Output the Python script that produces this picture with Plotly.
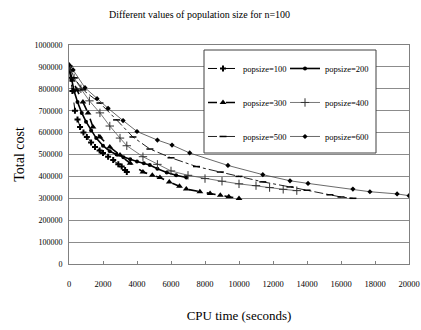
import plotly.graph_objects as go

# ---- data ----
t100 = [0, 100, 200, 350, 500, 650, 850, 1050, 1300, 1530, 1800, 2000, 2300, 2600, 2900, 3100, 3300, 3400]
c100 = [900000, 850000, 790000, 700000, 660000, 626000, 600000, 580000, 555000, 534000, 518000, 507000, 490000, 475000, 455000, 445000, 429000, 420000]

t200 = [0, 150, 300, 500, 750, 1000, 1300, 1600, 2000, 2400, 2800, 3200, 3600, 4000, 4400, 4750, 5200, 5750, 6300, 6900]
c200 = [900000, 840000, 790000, 740000, 690000, 650000, 610000, 575000, 540000, 515000, 500000, 488000, 478000, 468000, 460000, 452000, 435000, 418000, 405000, 395000]

t300 = [0, 200, 470, 820, 1120, 1410, 1820, 2400, 3000, 3600, 4350, 4900, 5350, 5900, 6500, 6900, 7700, 8300, 8900, 9400, 10000]
c300 = [890000, 840000, 795000, 740000, 690000, 626000, 580000, 534000, 498000, 460000, 420000, 405000, 395000, 375000, 355000, 342000, 330000, 322000, 314000, 307000, 299000]

t400 = [0, 300, 700, 1200, 1820, 2400, 3000, 3400, 4350, 5200, 6000, 7000, 8000, 9000, 10000, 11000, 11800, 12600, 13400]
c400 = [900000, 850000, 800000, 745000, 690000, 630000, 575000, 540000, 490000, 455000, 425000, 405000, 390000, 378000, 366000, 358000, 349000, 341000, 335000]

t500 = [0, 300, 820, 1820, 2800, 3760, 4760, 6000, 7500, 8900, 10000, 11400, 13000, 14000, 15350, 16000, 16700]
c500 = [905000, 850000, 795000, 735000, 658000, 580000, 525000, 485000, 445000, 420000, 400000, 375000, 352000, 337000, 316000, 306000, 300000]

t600 = [0, 240, 940, 1650, 2300, 3180, 4000, 5200, 6060, 7100, 9350, 11400, 13000, 14060, 16700, 17700, 19300, 20000]
c600 = [910000, 886000, 805000, 755000, 711000, 655000, 605000, 566000, 543000, 507000, 450000, 408000, 380000, 368000, 342000, 330000, 320000, 312000]

names = ["popsize=100", "popsize=200", "popsize=300", "popsize=400", "popsize=500", "popsize=600"]
title_text = "Different values of population size for n=100"

FONT = "Liberation Serif"

fig = go.Figure()

styles = [
    dict(line=dict(color="#000000", width=1, dash="dash"),
         marker=dict(symbol="cross", size=5, color="#000000"), legend="legend"),
    dict(line=dict(color="#000000", width=1.6),
         marker=dict(symbol="circle", size=4, color="#000000"), legend="legend2"),
    dict(line=dict(color="#000000", width=1.6, dash="dash"),
         marker=dict(symbol="triangle-up", size=6, color="#000000"), legend="legend"),
    dict(line=dict(color="#555555", width=0.8),
         marker=dict(symbol="cross-thin", size=6, color="#333333", line=dict(width=1, color="#333333")), legend="legend2"),
    dict(line=dict(color="#222222", width=1, dash="dashdot"),
         marker=dict(symbol="line-ew", size=5, color="#000000", line=dict(width=1.5, color="#000000")), legend="legend"),
    dict(line=dict(color="#444444", width=0.8),
         marker=dict(symbol="diamond", size=4, color="#000000"), legend="legend2"),
]
xs = [t100, t200, t300, t400, t500, t600]
ys = [c100, c200, c300, c400, c500, c600]

for i in range(6):
    s = styles[i]
    fig.add_trace(go.Scatter(x=xs[i], y=ys[i], name=names[i], mode="lines+markers",
                             line=s["line"], marker=s["marker"], legend=s["legend"],
                             legendgroup=names[i]))

leg_common = dict(bgcolor="rgba(0,0,0,0)", borderwidth=0, font=dict(family=FONT, size=8.5, color="#000000"),
                  tracegroupgap=15, itemwidth=30, xanchor="left", yanchor="top", y=0.959)

fig.update_layout(
    width=421, height=330,
    margin=dict(l=69, r=12, t=45, b=66),
    paper_bgcolor="white", plot_bgcolor="white",
    title=dict(text=title_text, x=0.474, xanchor="center", y=0.957, yanchor="middle",
               font=dict(family=FONT, size=10, color="#000000")),
    legend=dict(x=(203 - 69) / 340, **leg_common),
    legend2=dict(x=(285 - 69) / 340, **leg_common),
    xaxis=dict(range=[0, 20000], dtick=2000, tickformat="d", showgrid=False, automargin=False,
               showline=True, linecolor="#808080", linewidth=1, mirror=True,
               ticks="inside", ticklen=3, tickcolor="#808080", ticklabelstandoff=12,
               tickfont=dict(family=FONT, size=8.5, color="#000000"),
               title=dict(text="CPU time (seconds)", font=dict(family=FONT, size=13, color="#000000"), standoff=22),
               zeroline=False),
    yaxis=dict(range=[0, 1000000], dtick=100000, tickformat="d", showgrid=True, gridcolor="#8c8c8c", gridwidth=1,
               automargin=False,
               showline=True, linecolor="#808080", linewidth=1, mirror=True,
               ticks="", ticklabelstandoff=4,
               tickfont=dict(family=FONT, size=8, color="#000000"),
               title=dict(text="Total cost", font=dict(family=FONT, size=14, color="#000000"), standoff=6),
               zeroline=False),
    showlegend=True,
    shapes=[dict(type="rect", xref="paper", yref="paper",
                 x0=(204 - 69) / 340, x1=(376 - 69) / 340, y0=(264 - 153) / 219, y1=(264 - 50) / 219,
                 fillcolor="white", line=dict(color="#404040", width=1), layer="above")],
)

fig.write_html("out.html", config={"displayModeBar": False, "staticPlot": True},
               post_script="document.body.style.margin='0px';document.body.style.overflow='hidden';")
